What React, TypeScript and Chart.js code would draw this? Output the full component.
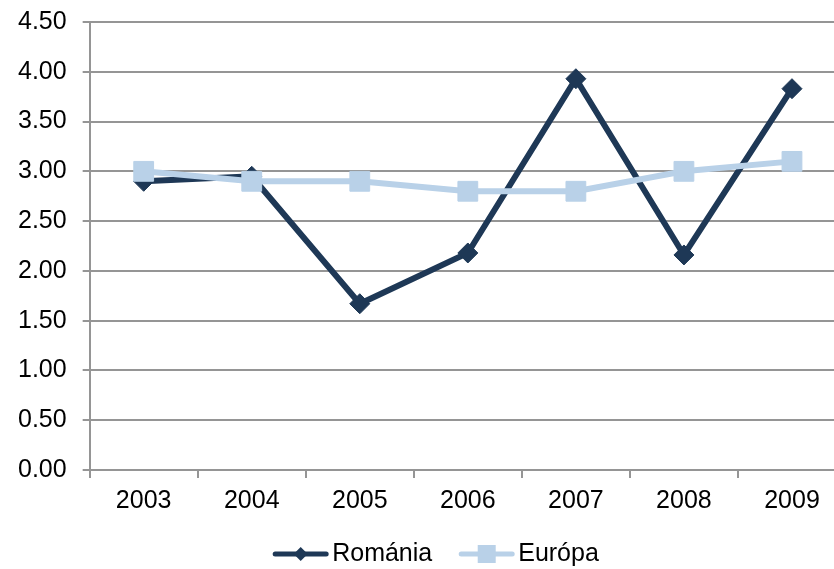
import React, { useEffect, useRef } from "react";
import { Chart, registerables } from "chart.js";

Chart.register(...registerables);

const years = ["2003", "2004", "2005", "2006", "2007", "2008", "2009"];
const romania = [2.9, 2.95, 1.67, 2.18, 3.93, 2.16, 3.83];
const europa = [3.0, 2.9, 2.9, 2.8, 2.8, 3.0, 3.1];
const seriesNames = ["Románia", "Európa"];

const ROMANIA_COLOR = "#1E3856";
const EUROPA_COLOR = "#B9D1E8";
const GRID_COLOR = "#959595";
const FONT = "'Liberation Sans', Arial, sans-serif";
const SHIFT = 9;

const legendPlugin = {
  id: "customLegend",
  afterDraw(chart: any) {
    const ctx = chart.ctx;
    const fontSize = 25;
    ctx.save();
    ctx.font = `${fontSize}px ${FONT}`;
    const lineLen = 55;
    const gapText = 4;
    const gapItems = 27;
    const items = chart.data.datasets.map((ds: any) => ({
      text: ds.label,
      color: ds.borderColor,
      style: ds.pointStyle,
      w: ctx.measureText(ds.label).width,
    }));
    const total =
      items.reduce((s: number, it: any) => s + lineLen + gapText + it.w, 0) +
      gapItems * (items.length - 1);
    const centerX = 436;
    const y = 554 + SHIFT;
    let x = centerX - total / 2;
    for (const it of items) {
      ctx.strokeStyle = it.color;
      ctx.lineWidth = 5;
      ctx.lineCap = "round";
      ctx.beginPath();
      ctx.moveTo(x + 2, y);
      ctx.lineTo(x + lineLen - 2, y);
      ctx.stroke();
      const cx = x + lineLen / 2;
      ctx.fillStyle = it.color;
      ctx.beginPath();
      if (it.style === "rectRot") {
        const r = 7;
        ctx.moveTo(cx - r, y);
        ctx.lineTo(cx, y - r);
        ctx.lineTo(cx + r, y);
        ctx.lineTo(cx, y + r);
        ctx.closePath();
      } else {
        const h = 9;
        ctx.rect(cx - h, y - h, 2 * h, 2 * h);
      }
      ctx.fill();
      x += lineLen + gapText;
      ctx.fillStyle = "#000";
      ctx.textBaseline = "middle";
      ctx.textAlign = "left";
      ctx.fillText(it.text, x, y);
      x += it.w + gapItems;
    }
    ctx.restore();
  },
};

export default function App() {
  const ref = useRef<HTMLCanvasElement>(null);
  useEffect(() => {
    if (!ref.current) return;
    const chart = new Chart(ref.current, {
      type: "line",
      data: {
        labels: years,
        datasets: [
          {
            label: seriesNames[0],
            data: romania,
            borderColor: ROMANIA_COLOR,
            backgroundColor: ROMANIA_COLOR,
            borderWidth: 6,
            pointStyle: "rectRot",
            pointRadius: 10,
            pointBorderWidth: 1,
            tension: 0,
            order: 1,
          },
          {
            label: seriesNames[1],
            data: europa,
            borderColor: EUROPA_COLOR,
            backgroundColor: EUROPA_COLOR,
            borderWidth: 6,
            pointStyle: "rect",
            pointRadius: 14,
            pointBorderWidth: 1,
            tension: 0,
            order: 0,
          },
        ],
      },
      options: {
        animation: false,
        responsive: false,
        devicePixelRatio: 1,
        layout: { padding: { top: 14, left: 2, right: 3, bottom: 45 } },
        plugins: { legend: { display: false }, tooltip: { enabled: false } },
        scales: {
          x: {
            offset: true,
            grid: {
              offset: true,
              drawOnChartArea: false,
              drawTicks: true,
              tickLength: 8,
              color: GRID_COLOR,
              lineWidth: 2,
            },
            border: { color: GRID_COLOR, width: 2 },
            ticks: {
              color: "#000",
              font: { size: 25, family: FONT },
              padding: 8,
              maxRotation: 0,
            },
          },
          y: {
            min: 0,
            max: 4.5,
            grid: {
              color: GRID_COLOR,
              lineWidth: 2,
              tickLength: 7,
            },
            border: { color: GRID_COLOR, width: 2 },
            ticks: {
              stepSize: 0.5,
              color: "#000",
              font: { size: 25, family: FONT },
              padding: 16,
              callback: (v: any) => Number(v).toFixed(2),
            },
          },
        },
      },
      plugins: [legendPlugin],
    });
    return () => chart.destroy();
  }, []);
  return (
    <div
      style={{
        position: "fixed",
        left: 0,
        top: 0,
        width: 834,
        height: 569,
        overflow: "hidden",
        background: "#fff",
      }}
    >
      <canvas
        ref={ref}
        width={861}
        height={569 + SHIFT}
        style={{ position: "absolute", left: 0, top: -SHIFT, width: 861, height: 569 + SHIFT }}
      />
    </div>
  );
}
